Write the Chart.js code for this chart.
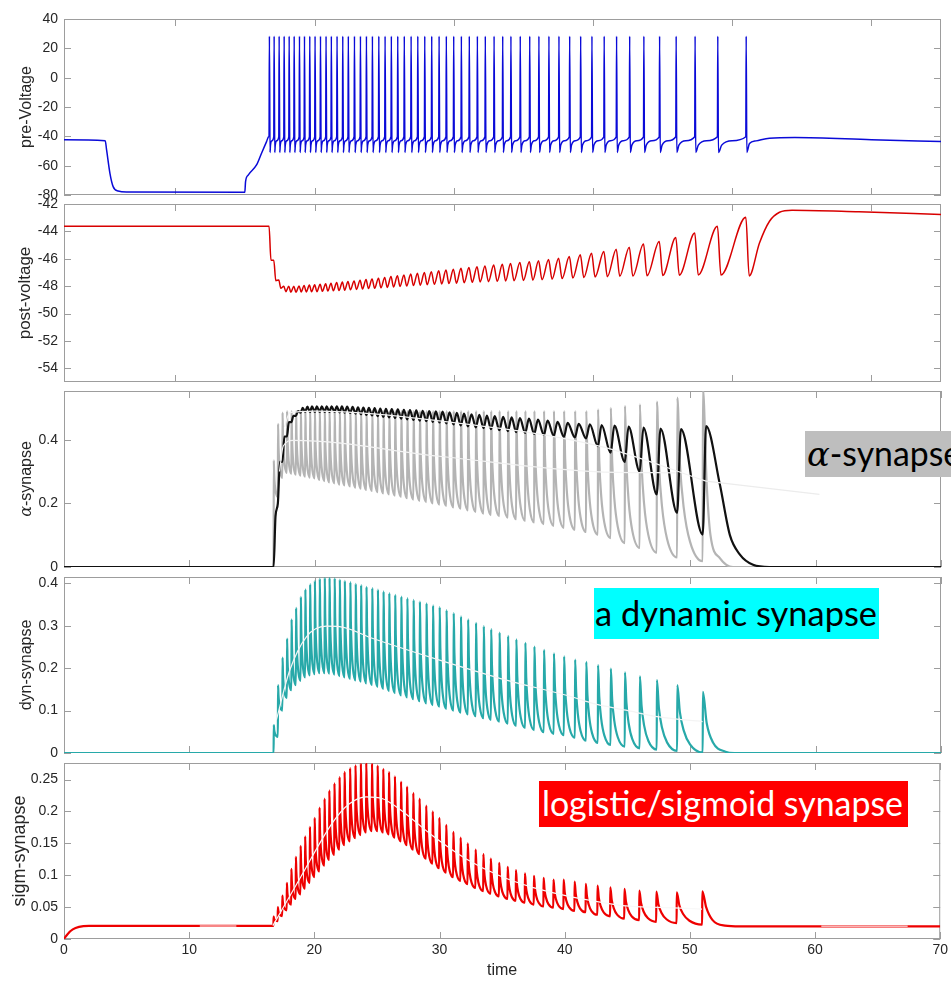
<!DOCTYPE html>
<html><head><meta charset="utf-8">
<script src="https://cdn.jsdelivr.net/npm/chart.js@4.4.1/dist/chart.umd.min.js"></script>
<style>
html,body{margin:0;padding:0;background:#fff;width:951px;height:987px;overflow:hidden;position:relative;}
canvas{position:absolute;left:0;top:0;}
.tag{position:absolute;white-space:nowrap;overflow:visible;display:flex;align-items:center;font-family:Lato,'Open Sans',sans-serif;line-height:1;}
.tag .txt{display:inline-block;}
</style></head><body>
<canvas id="c1" width="951" height="987"></canvas>
<canvas id="c2" width="951" height="987"></canvas>
<canvas id="c3" width="951" height="987"></canvas>
<canvas id="c4" width="951" height="987"></canvas>
<canvas id="c5" width="951" height="987"></canvas>
<div id="tagA" class="tag" style="left:805px;top:431px;width:180px;height:46px;background:#bebebe;color:#000;"><span class="txt" style="padding-left:2px"><i style="font-family:'DejaVu Serif',serif">α</i>-synapse</span></div>
<div id="tagD" class="tag" style="left:594px;top:588px;width:285px;height:51px;background:#00ffff;color:#000;"><span class="txt" style="padding-left:1px">a dynamic synapse</span></div>
<div id="tagS" class="tag" style="left:539px;top:781px;width:369px;height:46px;background:#ff0000;color:#fff;"><span class="txt" style="padding-left:3px">logistic/sigmoid synapse</span></div>
<script>
// ---------------- data ----------------
const spikeTimes = [16.73,17.07,17.43,17.79,18.15,18.51,18.89,19.25,19.63,20.01,20.40,20.80,21.18,21.59,22.00,22.40,22.84,23.27,23.70,24.13,24.59,25.04,25.49,25.95,26.42,26.91,27.39,27.89,28.39,28.92,29.44,29.97,30.52,31.09,31.67,32.24,32.87,33.49,34.08,34.75,35.43,36.09,36.81,37.53,38.30,39.09,39.90,40.78,41.67,42.61,43.63,44.76,45.95,47.31,48.94,50.98];

// pre-voltage
const preHead = [[2,-42.4],[4.96,-43.0],[5.06,-49.3],[5.30,-65.2],[5.53,-74.3],[5.89,-77.3],[6.5,-78.0],[14.99,-78.2],[15.04,-71.0],[15.23,-66.4],[15.83,-59.5],[16.19,-51.5],[16.55,-43.6],[16.70,-40.3]];
const preTail = [[51.24,-44.9],[51.72,-43.1],[52.68,-41.3],[54.5,-40.8],[60,-42.3],[65,-43.6]];
const prePeak = 28.3, preTrough = -51.0, preThreshold = -40.3;
const preRiseFrac = [0, 0.12, 0.5, 1];
const preRiseV = [-51, -46, -43, -40.3];

// post-voltage
const postHead = [[2,-43.63]];
const postPeak = [-43.63,-46.1,-47.55,-48.0,-48.0,-48.0,-47.98,-47.95,-47.92,-47.9,-47.86,-47.82,-47.78,-47.74,-47.7,-47.66,-47.62,-47.57,-47.52,-47.47,-47.42,-47.36,-47.3,-47.24,-47.18,-47.12,-47.06,-47.0,-46.94,-46.88,-46.82,-46.76,-46.7,-46.64,-46.58,-46.52,-46.46,-46.4,-46.34,-46.28,-46.22,-46.15,-46.06,-45.96,-45.84,-45.71,-45.59,-45.47,-45.3,-45.15,-44.93,-44.73,-44.44,-44.12,-43.63,-42.97];
const postTrough = [-46.1,-47.6,-48.15,-48.4,-48.45,-48.45,-48.43,-48.42,-48.41,-48.4,-48.38,-48.36,-48.34,-48.32,-48.3,-48.27,-48.24,-48.21,-48.18,-48.15,-48.12,-48.09,-48.06,-48.02,-47.99,-47.96,-47.93,-47.9,-47.87,-47.84,-47.81,-47.78,-47.75,-47.72,-47.69,-47.67,-47.65,-47.62,-47.6,-47.58,-47.56,-47.53,-47.49,-47.45,-47.41,-47.37,-47.33,-47.31,-47.28,-47.26,-47.24,-47.22,-47.2,-47.18,-47.18,-47.25];
const postTail = [[51.96,-44.85],[52.68,-43.26],[53.4,-42.6],[54.3,-42.45],[59.1,-42.57],[65,-42.77]];

// shape of a synaptic decay between two spikes (fraction of ISI, fraction of drop left)
const decayFrac = [0, 0.1, 0.25, 0.5, 1];
const decayLeft = [1, 0.6, 0.33, 0.12, 0];

// alpha synapse (gray = raw, black = smoothed)
const grayPeak = [0.335,0.45,0.485,0.49,0.49,0.49,0.49,0.49,0.49,0.49,0.49,0.49,0.49,0.49,0.49,0.49,0.49,0.49,0.49,0.49,0.49,0.49,0.49,0.49,0.49,0.49,0.49,0.49,0.49,0.49,0.49,0.49,0.49,0.49,0.49,0.49,0.49,0.49,0.49,0.49,0.49,0.49,0.49,0.49,0.49,0.49,0.49,0.49,0.49,0.495,0.50,0.506,0.511,0.52,0.532,0.56];
const grayTrough = [0,0.22,0.28,0.296,0.293,0.29,0.287,0.284,0.281,0.278,0.274,0.27,0.266,0.263,0.259,0.256,0.253,0.249,0.246,0.242,0.239,0.235,0.231,0.228,0.224,0.22,0.216,0.212,0.208,0.204,0.2,0.196,0.192,0.187,0.183,0.178,0.173,0.168,0.163,0.16,0.155,0.15,0.145,0.14,0.135,0.129,0.123,0.117,0.11,0.102,0.091,0.075,0.06,0.045,0.03,0.018];
const grayTail = [[51.3,0.26],[51.6,0.10],[52.35,0.028],[53.4,0],[70,0]];
const blackTrough = [0,0.2,0.33,0.41,0.455,0.475,0.485,0.487,0.487,0.487,0.487,0.487,0.487,0.487,0.486,0.485,0.484,0.482,0.48,0.478,0.476,0.474,0.472,0.47,0.468,0.466,0.464,0.462,0.46,0.458,0.456,0.454,0.451,0.448,0.445,0.442,0.439,0.436,0.433,0.43,0.427,0.424,0.421,0.418,0.415,0.412,0.409,0.407,0.404,0.38,0.359,0.33,0.30,0.228,0.17,0.102];
const blackPeak = [0.16,0.33,0.41,0.455,0.475,0.49,0.5,0.504,0.505,0.505,0.505,0.505,0.505,0.505,0.505,0.504,0.503,0.502,0.501,0.5,0.499,0.498,0.497,0.496,0.495,0.494,0.493,0.492,0.491,0.49,0.489,0.488,0.486,0.484,0.482,0.48,0.478,0.476,0.474,0.472,0.47,0.468,0.466,0.463,0.46,0.456,0.453,0.45,0.448,0.446,0.444,0.441,0.438,0.435,0.433,0.443];
const blackTail = [[52.35,0.259],[53.15,0.10],[53.95,0.039],[55.0,0.007],[56.3,0],[70,0]];
const alphaMeanUpper = [[17.6,0.44],[18.02,0.485],[20,0.49],[29.98,0.459],[42.73,0.38],[51.24,0.27]];
const alphaMeanLower = [[17.2,0.30],[17.5,0.38],[18.3,0.398],[29.98,0.348],[42.73,0.299],[48.8,0.296]];
const alphaMeanTail = [[51.24,0.27],[60.3,0.228]];

// dynamic synapse
const dynPeak = [0.066,0.16,0.225,0.27,0.315,0.342,0.368,0.386,0.398,0.406,0.411,0.413,0.413,0.412,0.409,0.406,0.403,0.399,0.396,0.392,0.389,0.385,0.381,0.377,0.373,0.369,0.365,0.361,0.357,0.353,0.348,0.344,0.337,0.330,0.322,0.315,0.307,0.299,0.292,0.284,0.276,0.268,0.260,0.251,0.243,0.235,0.228,0.220,0.215,0.207,0.199,0.190,0.181,0.172,0.160,0.144];
const dynTrough = [0,0.038,0.10,0.13,0.148,0.16,0.17,0.178,0.183,0.186,0.188,0.188,0.187,0.185,0.181,0.178,0.175,0.171,0.168,0.164,0.160,0.156,0.151,0.146,0.141,0.136,0.131,0.127,0.122,0.117,0.113,0.109,0.104,0.100,0.095,0.091,0.087,0.082,0.078,0.074,0.069,0.064,0.059,0.054,0.049,0.045,0.042,0.036,0.029,0.024,0.019,0.015,0.011,0.008,0.005,0.001];
const dynHead = [[0,0]];
const dynTail = [[51.3,0.07],[51.8,0.025],[52.8,0.003],[53.5,0],[70,0]];
const dynMean = [[16.95,0.078],[18.02,0.195],[19.35,0.274],[20.94,0.299],[22.0,0.298],[24.66,0.27],[29.98,0.219],[35.3,0.172],[40.6,0.132],[42.2,0.117],[44.85,0.101],[47.5,0.085],[50.97,0.074]];

// sigmoid synapse
const sigmHead = [[0,0],[0.3,0.008],[0.7,0.015],[1.2,0.019],[2.0,0.0205]];
const sigmPeak = [0.035,0.050,0.068,0.088,0.110,0.129,0.146,0.161,0.176,0.190,0.206,0.220,0.233,0.244,0.254,0.262,0.268,0.2725,0.275,0.276,0.275,0.272,0.267,0.262,0.255,0.247,0.239,0.229,0.220,0.209,0.200,0.190,0.179,0.168,0.159,0.150,0.140,0.133,0.126,0.1195,0.113,0.108,0.103,0.099,0.096,0.093,0.093,0.090,0.0865,0.0838,0.081,0.0786,0.076,0.0744,0.0733,0.0749];
const sigmTrough = [0.0205,0.028,0.036,0.045,0.054,0.063,0.070,0.079,0.088,0.097,0.106,0.115,0.124,0.132,0.140,0.147,0.153,0.158,0.163,0.167,0.169,0.169,0.167,0.164,0.159,0.153,0.147,0.140,0.133,0.126,0.118,0.111,0.104,0.097,0.091,0.086,0.080,0.075,0.071,0.067,0.063,0.060,0.057,0.054,0.051,0.049,0.047,0.044,0.042,0.038,0.0355,0.032,0.0295,0.027,0.025,0.0225];
const sigmTail = [[51.3,0.05],[51.8,0.03],[52.8,0.021],[54,0.0198],[70,0.0198]];
const sigmMean = [[16.69,0.021],[18.82,0.094],[21.47,0.183],[22.8,0.212],[24.13,0.223],[25.46,0.22],[26.79,0.204],[29.45,0.162],[32.1,0.126],[34.76,0.0995],[37.42,0.081],[40.08,0.068],[42.2,0.06],[44.86,0.052],[47.5,0.0497],[50.97,0.047]];
const sigmMeanFlat = [[10.85,0.0205],[13.77,0.0205],[40,null],[60.5,0.0198],[67.4,0.0198]];

// axes
const xTicksTop = [10,20,30,40,50,60];
const xTicksBottom = [0,10,20,30,40,50,60,70];
const yTicks1 = [-80,-60,-40,-20,0,20,40];
const yTicks2 = [-54,-52,-50,-48,-46,-44,-42];
const yTicks3 = [0,0.2,0.4];
const yTicks4 = [0,0.1,0.2,0.3,0.4];
const yTicks5 = [0,0.05,0.1,0.15,0.2,0.25];

// ---------------- series construction ----------------
const N = spikeTimes.length;
const P = a => a.map(([x,y]) => ({x,y}));
const RISE = 0.015;

function preSeries(){
  const pts = P(preHead);
  for (let i=0;i<N;i++){
    const t = spikeTimes[i];
    pts.push({x:t,y:preThreshold},{x:t+0.025,y:prePeak},{x:t+0.07,y:preTrough});
    if (i<N-1){
      const isi = spikeTimes[i+1]-t-0.07;
      for (let k=1;k<preRiseFrac.length-1;k++) pts.push({x:t+0.07+preRiseFrac[k]*isi,y:preRiseV[k]});
    }
  }
  return pts.concat(P(preTail));
}
function postSeries(){
  const pts = P(postHead);
  for (let i=0;i<N;i++){
    const t = spikeTimes[i];
    const isi = i<N-1 ? spikeTimes[i+1]-t : 0.6;
    pts.push({x:t,y:postPeak[i]},{x:t+Math.min(0.25,0.4*isi),y:postTrough[i]});
  }
  return pts.concat(P(postTail));
}
function decaySeries(head, peaks, troughs, tail){
  const pts = P(head);
  for (let i=0;i<N;i++){
    const t = spikeTimes[i];
    pts.push({x:t,y:troughs[i]},{x:t+RISE,y:peaks[i]});
    if (i<N-1){
      const isi = spikeTimes[i+1]-t-RISE;
      for (let k=1;k<decayFrac.length-1;k++)
        pts.push({x:t+RISE+decayFrac[k]*isi, y:troughs[i+1]+decayLeft[k]*(peaks[i]-troughs[i+1])});
    }
  }
  return pts.concat(P(tail));
}
function blackSeries(){
  const pts = [{x:0,y:0}];
  for (let i=0;i<N;i++){
    const t = spikeTimes[i];
    const isi = i<N-1 ? spikeTimes[i+1]-t : 0.6;
    pts.push({x:t,y:blackTrough[i]},{x:t+Math.min(0.3,0.45*isi),y:blackPeak[i]});
  }
  return pts.concat(P(blackTail));
}

// ---------------- drawing helpers ----------------
const TICK_FONT = {family:'"Liberation Sans", Arial, sans-serif', size:14};
const fmt = v => String(parseFloat(Number(v).toFixed(4)));

const framePlugin = {
  id:'frame',
  beforeDatasetsDraw(chart, args, o){
    const {ctx, chartArea:a} = chart; const x = chart.scales.x, y = chart.scales.y;
    ctx.save();
    ctx.strokeStyle = '#9d9d9d'; ctx.lineWidth = 1;
    ctx.strokeRect(a.left+0.5, a.top+0.5, a.right-a.left-1, a.bottom-a.top-1);
    const L = 7;
    ctx.beginPath();
    x.ticks.forEach(tk => { const px = Math.round(x.getPixelForValue(tk.value))+0.5;
      ctx.moveTo(px,a.bottom); ctx.lineTo(px,a.bottom-L); ctx.moveTo(px,a.top); ctx.lineTo(px,a.top+L); });
    y.ticks.forEach(tk => { const py = Math.round(y.getPixelForValue(tk.value))+0.5;
      ctx.moveTo(a.left,py); ctx.lineTo(a.left+L,py); ctx.moveTo(a.right,py); ctx.lineTo(a.right-L,py); });
    ctx.stroke();
    ctx.restore();
  },
  afterDraw(chart, args, o){
    const {ctx, chartArea:a} = chart;
    ctx.save();
    ctx.fillStyle = '#262626';
    ctx.translate(o.titleX, (a.top+a.bottom)/2);
    ctx.rotate(-Math.PI/2);
    ctx.textBaseline = 'middle';
    const f2 = o.titleSize + 'px "Liberation Sans", Arial, sans-serif';
    if (o.greek){
      const f1 = 'italic ' + o.titleSize + 'px "DejaVu Serif", serif';
      ctx.font = f1; const w1 = ctx.measureText(o.greek).width;
      ctx.font = f2; const w2 = ctx.measureText(o.title).width;
      const x0 = -(w1+w2)/2;
      ctx.textAlign = 'left';
      ctx.font = f1; ctx.fillText(o.greek, x0, 0);
      ctx.font = f2; ctx.fillText(o.title, x0+w1, 0);
    } else {
      ctx.textAlign = 'center'; ctx.font = f2; ctx.fillText(o.title, 0, 0);
    }
    ctx.restore();
    if (o.xTitle){
      ctx.save();
      ctx.fillStyle = '#262626';
      ctx.font = '16px "Liberation Sans", Arial, sans-serif';
      ctx.textAlign = 'center'; ctx.textBaseline = 'middle';
      ctx.fillText(o.xTitle, (a.left+a.right)/2, a.bottom + 32);
      ctx.restore();
    }
  }
};

function line(data, color, width, order){
  return {data, borderColor:color, borderWidth:width, pointRadius:0, fill:false,
          cubicInterpolationMode:'monotone', order, spanGaps:false};
}

function makeChart(id, o){
  const xH = o.xLabels ? 48 : 0;
  return new Chart(document.getElementById(id), {
    type:'line',
    data:{datasets:o.datasets},
    options:{
      responsive:false, animation:false, devicePixelRatio:1, parsing:false, normalized:true,
      layout:{padding:{left:0,right:10,top:o.top,bottom:987-o.bottom-xH}},
      plugins:{legend:{display:false}, tooltip:{enabled:false},
        frame:{title:o.title, greek:o.greek, titleX:o.titleX, titleSize:o.titleSize, xTitle:o.xTitle}},
      scales:{
        x:{type:'linear', min:o.xmin, max:o.xmax,
           afterBuildTicks:s => { s.ticks = o.xTicks.map(v => ({value:v})); },
           afterFit:s => { s.height = xH; },
           grid:{display:false, drawTicks:false}, border:{display:false},
           ticks:{display:!!o.xLabels, font:TICK_FONT, color:'#262626', padding:3, maxRotation:0, autoSkip:false, callback:v => fmt(v)}},
        y:{type:'linear', min:o.ymin, max:o.ymax,
           afterBuildTicks:s => { s.ticks = o.yTicks.map(v => ({value:v})); },
           afterFit:s => { s.width = 64; },
           grid:{display:false, drawTicks:false}, border:{display:false},
           ticks:{font:TICK_FONT, color:'#262626', padding:6, autoSkip:false, callback:v => fmt(v)}}
      }
    },
    plugins:[framePlugin]
  });
}

makeChart('c1', {top:19, bottom:195, xmin:2, xmax:65, xTicks:xTicksTop, ymin:-80, ymax:40, yTicks:yTicks1,
  title:'pre-Voltage', titleX:27, titleSize:16,
  datasets:[line(preSeries(), '#0a0ad8', 1.5, 0)]});

makeChart('c2', {top:204, bottom:382, xmin:2, xmax:65, xTicks:xTicksTop, ymin:-55, ymax:-42, yTicks:yTicks2,
  title:'post-voltage', titleX:25, titleSize:17,
  datasets:[line(postSeries(), '#d80000', 1.5, 0)]});

makeChart('c3', {top:391, bottom:567, xmin:0, xmax:70, xTicks:xTicksBottom, ymin:0, ymax:0.553, yTicks:yTicks3,
  title:'-synapse', greek:'α', titleX:27, titleSize:16,
  datasets:[
    line(P(alphaMeanUpper), '#f2f2f2', 1.2, 0),
    line(P(alphaMeanLower), '#f2f2f2', 1.2, 1),
    line(P(alphaMeanTail), '#ececec', 1.2, 2),
    line(blackSeries(), '#111111', 2.2, 3),
    line(decaySeries([[0,0]], grayPeak, grayTrough, grayTail), '#b4b4b4', 2.2, 4)
  ]});

makeChart('c4', {top:577, bottom:753, xmin:0, xmax:70, xTicks:xTicksBottom, ymin:0, ymax:0.415, yTicks:yTicks4,
  title:'dyn-synapse', titleX:27, titleSize:16,
  datasets:[
    line(P(dynMean), '#f4f4f4', 1.2, 0),
    line(decaySeries(dynHead, dynPeak, dynTrough, dynTail), '#27a9a9', 2.2, 1)
  ]});

makeChart('c5', {top:763, bottom:939, xmin:0, xmax:70, xTicks:xTicksBottom, ymin:0, ymax:0.276, yTicks:yTicks5,
  title:'sigm-synapse', titleX:20, titleSize:18, xTitle:'time', xLabels:true,
  datasets:[
    line(P(sigmMean), '#f8f8f8', 1.2, 0),
    line(P(sigmMeanFlat), 'rgba(255,255,255,0.7)', 1.5, 1),
    line(decaySeries(sigmHead, sigmPeak, sigmTrough, sigmTail), '#ee0000', 2.2, 2)
  ]});

// ---------------- annotation tags: fit text to measured widths ----------------
function fit(id, target, base){
  const el = document.querySelector('#'+id+' .txt');
  el.style.fontSize = base+'px';
  const w = el.getBoundingClientRect().width;
  el.style.fontSize = (base*target/w)+'px';
}
fit('tagA', 156, 36);
fit('tagD', 283, 36);
fit('tagS', 364, 36);
</script>
</body></html>
